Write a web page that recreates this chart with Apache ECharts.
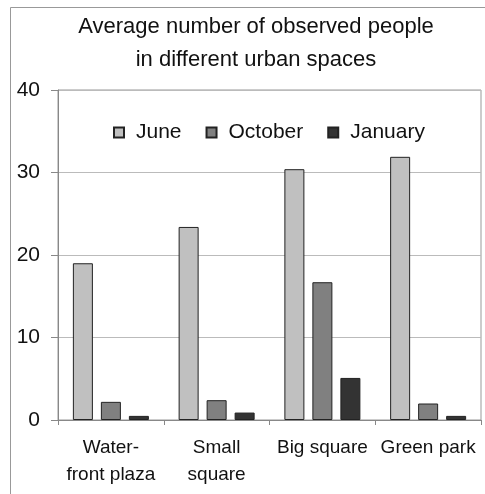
<!DOCTYPE html>
<html>
<head>
<meta charset="utf-8">
<script src="https://cdn.jsdelivr.net/npm/echarts@6/dist/echarts.min.js"></script>
<style>
  html, body { margin: 0; padding: 0; background: #fff; }
  #chart { width: 485px; height: 494px; }
</style>
</head>
<body>
<div id="chart"></div>
<script>
// Observed people per urban space, by survey month
const categories = ['Water-\nfront plaza', 'Small\nsquare', 'Big square', 'Green park'];
const june = [19.0, 23.4, 30.4, 31.9];
const october = [2.2, 2.4, 16.7, 2.0];
const january = [0.5, 0.9, 5.1, 0.5];
const yTicks = [0, 10, 20, 30, 40];

const font = 'Liberation Sans, Arial, sans-serif';

function barSeries(name, data, color) {
  return {
    name: name,
    type: 'bar',
    data: data,
    barWidth: 20,
    barGap: '40%',
    itemStyle: { color: color, borderColor: '#222', borderWidth: 1 }
  };
}

const chart = echarts.init(document.getElementById('chart'), null, { renderer: 'canvas' });
chart.setOption({
  animation: false,
  backgroundColor: '#fff',
  title: {
    text: 'Average number of observed people\nin different urban spaces',
    left: 251,
    textAlign: 'center',
    top: 5,
    textStyle: { fontFamily: font, fontSize: 22, fontWeight: 'normal', color: '#111', lineHeight: 33 }
  },
  legend: {
    data: ['June', 'October', 'January'],
    left: 113,
    top: 122,
    padding: 0,
    itemWidth: 10,
    itemHeight: 10,
    itemGap: 24,
    icon: 'rect',
    textStyle: { fontFamily: font, fontSize: 21, color: '#111', padding: [0, 0, 0, 7] }
  },
  graphic: [{
    type: 'rect',
    shape: { x: 10.5, y: 7.5, width: 490, height: 500 },
    style: { fill: 'none', stroke: '#999', lineWidth: 1 },
    silent: true
  }],
  grid: {
    left: 58, right: 4, top: 90, bottom: 74,
    show: true, borderColor: '#999', borderWidth: 1
  },
  xAxis: {
    type: 'category',
    data: categories,
    axisLine: { lineStyle: { color: '#888' } },
    axisTick: { show: true, alignWithLabel: false, length: 5, lineStyle: { color: '#888' } },
    axisLabel: { fontFamily: font, fontSize: 19, color: '#111', lineHeight: 27, margin: 14, interval: 0 }
  },
  yAxis: {
    type: 'value',
    min: yTicks[0],
    max: yTicks[yTicks.length - 1],
    interval: 10,
    axisLine: { show: true, lineStyle: { color: '#888' } },
    axisTick: { show: true, length: 7, lineStyle: { color: '#888' } },
    axisLabel: { fontFamily: font, fontSize: 21, color: '#111', margin: 18 },
    splitLine: { lineStyle: { color: '#bbb' } }
  },
  series: [
    barSeries('June', june, '#c0c0c0'),
    barSeries('October', october, '#808080'),
    barSeries('January', january, '#333333')
  ]
});
</script>
</body>
</html>
